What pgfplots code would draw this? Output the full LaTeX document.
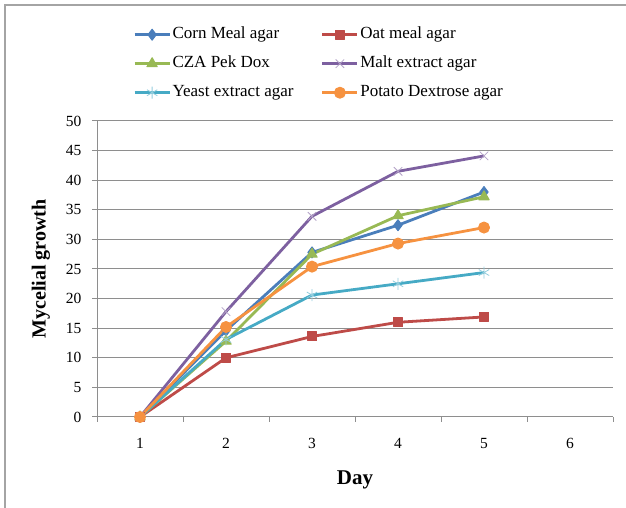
\documentclass[border=0pt]{standalone}
\usepackage{fontspec}
\setmainfont{Liberation Serif}
\usepackage{pgfplots}
\pgfplotsset{compat=1.18}
\definecolor{cblue}{HTML}{4A7EBB}
\definecolor{cred}{HTML}{BE4B48}
\definecolor{cgreen}{HTML}{98B954}
\definecolor{cpurple}{HTML}{7D60A0}
\definecolor{cpurplel}{HTML}{B3A2C7}
\definecolor{caqua}{HTML}{46AAC5}
\definecolor{caqual}{HTML}{93CDDD}
\definecolor{corange}{HTML}{F69240}
\definecolor{axgray}{HTML}{8E8E8E}
\begin{document}
\begin{tikzpicture}[x=1bp,y=1bp]
\useasboundingbox (0,0) rectangle (626,508);
\draw[axgray!80, line width=1.5bp] (5,0) -- (5,503) -- (626,503);
\begin{axis}[
  at={(97bp,91bp)}, anchor=south west,
  width=516bp, height=296bp, scale only axis,
  xmin=0.5, xmax=6.5, ymin=0, ymax=50,
  axis lines*=left,
  axis line style={draw=axgray, line width=1bp},
  xtick={1,2,3,4,5,6},
  minor xtick={0.5,1.5,2.5,3.5,4.5,5.5,6.5},
  ytick={0,5,...,50},
  major x tick style={draw=none},
  tick align=outside,
  major tick length=5bp, minor tick length=5bp,
  tick style={draw=axgray, line width=1bp},
  ymajorgrids,
  major grid style={draw=axgray, line width=1bp},
  ticklabel style={font=\fontsize{15.5bp}{18bp}\selectfont},
  xticklabel style={yshift=-13bp},
  yticklabel style={xshift=-7bp},
  /pgf/number format/assume math mode=true,
  xlabel={Day},
  ylabel={Mycelial growth},
  xlabel style={font=\bfseries\fontsize{21bp}{24bp}\selectfont, at={(axis description cs:0.5,-0.2128)}, anchor=center},
  ylabel style={font=\bfseries\fontsize{20bp}{24bp}\selectfont, at={(axis description cs:-0.1085,0.5)}, anchor=center},
  clip=false,
  legend columns=2,
  legend image code/.code={\draw[mark repeat=2,mark phase=2,#1] plot coordinates {(0bp,0bp) (17.5bp,0bp) (35bp,0bp)};},
  legend style={at={(axis description cs:0.064,1.331)}, anchor=north west, draw=none, fill=none,
    font=\fontsize{17bp}{20bp}\selectfont,
    nodes={inner sep=1.5bp, text height=12bp, text depth=4bp},
    row sep=10bp,
    /tikz/every even column/.append style={column sep=26bp},
    cells={anchor=west}},
  every axis plot/.append style={line width=2.8bp, line join=round},
]
\addplot[cblue, mark=diamond*, mark size=5.5bp, mark options={solid, line width=1bp}]
  coordinates {(1,0) (2,14.6) (3,27.8) (4,32.4) (5,38.0)};
\addlegendentry{Corn Meal agar}
\addplot[cred, mark=square*, mark size=4.5bp, mark options={solid, line width=1bp}]
  coordinates {(1,0) (2,10.0) (3,13.6) (4,16.0) (5,16.9)};
\addlegendentry{Oat meal agar}
\addplot[cgreen, mark=triangle*, mark size=6bp, mark options={solid, line width=1bp}]
  coordinates {(1,0) (2,12.8) (3,27.5) (4,34.0) (5,37.2)};
\addlegendentry{CZA Pek Dox}
\addplot[cpurple, mark=x, mark size=6bp, mark options={solid, line width=0.8bp, draw=cpurplel}]
  coordinates {(1,0) (2,17.8) (3,33.9) (4,41.5) (5,44.1)};
\addlegendentry{Malt extract agar}
\addplot[caqua, mark=asterisk, mark size=6bp, mark options={solid, line width=0.8bp, draw=caqual}]
  coordinates {(1,0) (2,13.1) (3,20.6) (4,22.5) (5,24.4)};
\addlegendentry{Yeast extract agar}
\addplot[corange, mark=*, mark size=5.5bp, mark options={solid, line width=1bp}]
  coordinates {(1,0) (2,15.2) (3,25.4) (4,29.3) (5,32.0)};
\addlegendentry{Potato Dextrose agar}
\end{axis}
\end{tikzpicture}
\end{document}
